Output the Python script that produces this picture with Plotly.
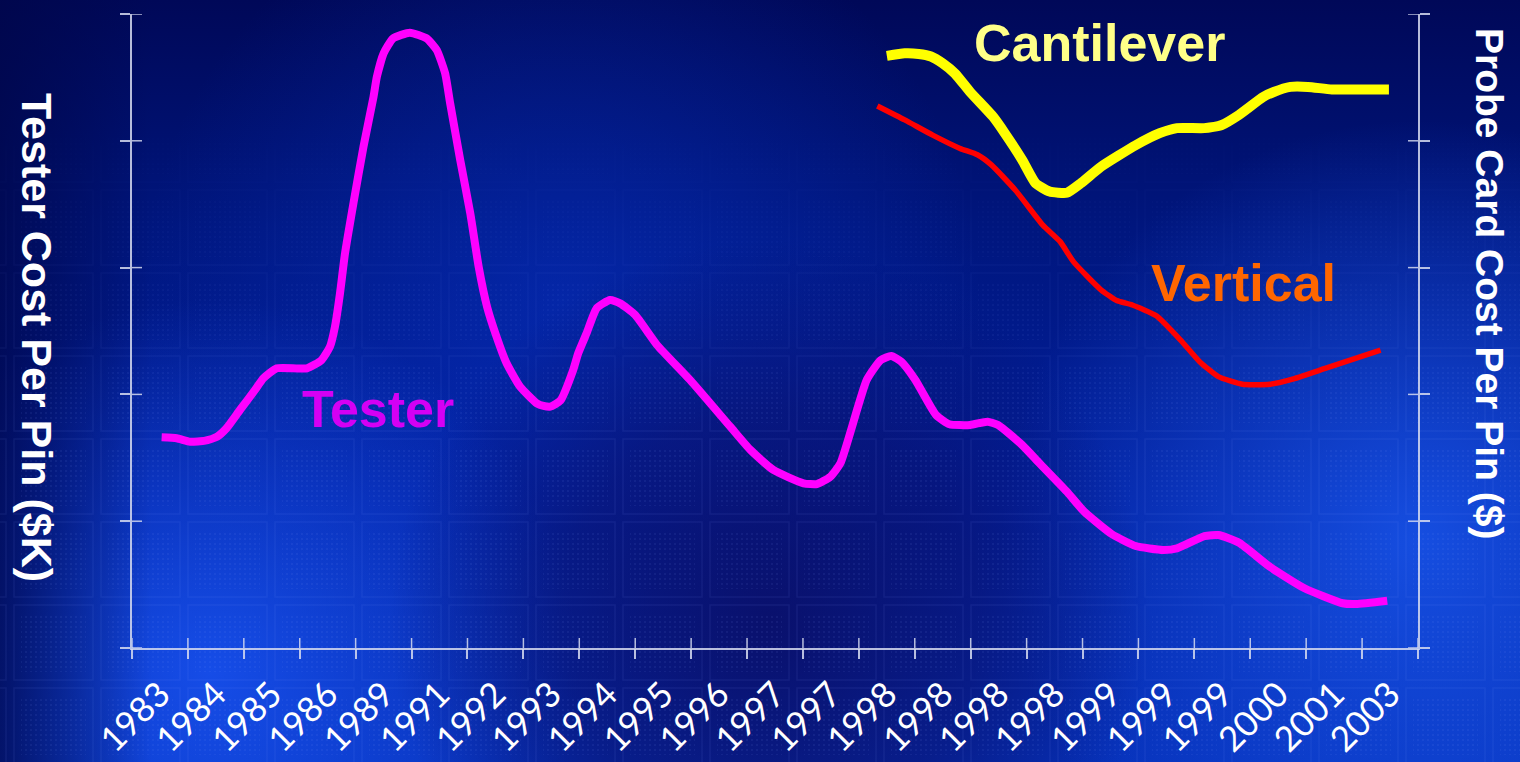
import base64
import plotly.graph_objects as go

# ---- category labels (one slot per survey point) ----
years = ["1983", "1984", "1985", "1986", "1989", "1991", "1992", "1993",
         "1994", "1995", "1996", "1997", "1997", "1998", "1998", "1998",
         "1998", "1999", "1999", "1999", "2000", "2001", "2003"]

# ---- Tester cost per pin ($K), left axis; x in category-slot units ----
tester_x = [0.03, 0.30, 0.54, 0.81, 1.02, 1.19, 1.43, 1.70, 1.85, 2.09,
            2.63, 2.89, 3.04, 3.13, 3.22, 3.31, 3.46, 3.64, 3.82, 3.88,
            4.00, 4.17, 4.47, 4.77, 4.95, 5.10, 5.19, 5.37, 5.55, 5.70,
            5.85, 6.02, 6.20, 6.44, 6.74, 6.86, 6.98, 7.16, 7.39, 7.48,
            7.63, 7.81, 8.05, 8.23, 8.50, 8.89, 9.48, 10.20, 10.56, 10.97,
            11.51, 11.75, 11.99, 12.17, 12.64, 12.89, 13.08, 13.26, 13.51, 13.88,
            14.12, 14.49, 14.80, 14.99, 15.42, 15.73, 16.22, 16.53, 17.02, 17.45,
            17.94, 18.19, 18.68, 18.93, 19.30, 19.85, 20.47, 21.15, 21.39, 21.95]
tester_y = [16.62, 16.54, 16.27, 16.35, 16.66, 17.33, 18.77, 20.35, 21.27, 22.06,
            22.06, 22.71, 23.76, 25.34, 27.97, 31.13, 35.07, 39.53, 43.48, 45.06,
            46.90, 48.08, 48.53, 48.08, 47.16, 45.32, 42.96, 38.49, 34.28, 30.07,
            26.92, 24.55, 22.45, 20.61, 19.30, 19.09, 19.03, 19.50, 21.92, 23.24,
            24.82, 26.79, 27.44, 27.18, 26.26, 23.90, 21.14, 17.45, 15.62, 14.04,
            12.99, 12.93, 13.51, 14.57, 21.14, 22.71, 23.03, 22.58, 21.14, 18.38,
            17.64, 17.59, 17.85, 17.59, 16.01, 14.57, 12.33, 10.75, 8.99, 8.04,
            7.73, 7.86, 8.83, 8.91, 8.30, 6.41, 4.71, 3.53, 3.47, 3.73]

# ---- Probe card cost per pin ($), right axis ----
cantilever_x = [13.00, 13.32, 13.57, 13.79, 14.00, 14.22, 14.49, 14.90, 15.11, 15.42,
                15.66, 15.91, 16.22, 16.47, 16.83, 17.45, 17.88, 18.19, 18.68, 18.99,
                19.30, 19.73, 19.92, 20.22, 20.53, 20.96, 21.45, 21.98]
cantilever_y = [9.34, 9.38, 9.37, 9.33, 9.22, 9.06, 8.77, 8.38, 8.12, 7.70,
                7.33, 7.20, 7.18, 7.33, 7.59, 7.93, 8.12, 8.20, 8.20, 8.25,
                8.41, 8.69, 8.77, 8.85, 8.85, 8.81, 8.81, 8.81]

vertical_x = [12.83, 13.32, 13.82, 14.31, 14.62, 14.87, 15.30, 15.79, 16.10, 16.34,
              16.83, 17.11, 17.39, 17.82, 18.25, 18.59, 18.93, 19.36, 19.85, 20.29,
              20.84, 21.83]
vertical_y = [8.55, 8.33, 8.09, 7.88, 7.78, 7.62, 7.22, 6.67, 6.41, 6.09,
              5.65, 5.48, 5.41, 5.24, 4.86, 4.52, 4.28, 4.16, 4.16, 4.25,
              4.41, 4.70]

W, H = 1520, 762
M_L, M_R, M_T, M_B = 132, 102, 14, 114
PW, PH = W - M_L - M_R, H - M_T - M_B

FONT = "Liberation Sans, Arial, sans-serif"
AXIS_COL = "rgba(215,220,240,0.85)"
TICK_LEN = 10

# ---- blue backdrop with a faint chip-array texture ----
bg_svg = f'''<svg xmlns="http://www.w3.org/2000/svg" width="{W}" height="{H}" viewBox="0 0 {W} {H}" preserveAspectRatio="none">
<defs>
<linearGradient id="base" x1="0" y1="0" x2="0" y2="1">
<stop offset="0" stop-color="#000858"/>
<stop offset="0.3" stop-color="#00167e"/>
<stop offset="0.65" stop-color="#02209e"/>
<stop offset="1" stop-color="#0630b8"/>
</linearGradient>
<radialGradient id="glowL" cx="210" cy="670" r="370" gradientUnits="userSpaceOnUse">
<stop offset="0" stop-color="#1a55f5" stop-opacity="0.8"/>
<stop offset="1" stop-color="#1a55f5" stop-opacity="0"/>
</radialGradient>
<radialGradient id="glowR" cx="1420" cy="540" r="420" gradientUnits="userSpaceOnUse">
<stop offset="0" stop-color="#1c5cf5" stop-opacity="0.75"/>
<stop offset="1" stop-color="#1c5cf5" stop-opacity="0"/>
</radialGradient>
<radialGradient id="glowC" cx="560" cy="300" r="420" gradientUnits="userSpaceOnUse">
<stop offset="0" stop-color="#0834c8" stop-opacity="0.5"/>
<stop offset="1" stop-color="#0834c8" stop-opacity="0"/>
</radialGradient>
<radialGradient id="darkC" cx="770" cy="620" r="380" gradientUnits="userSpaceOnUse">
<stop offset="0" stop-color="#0a0e66" stop-opacity="0.9"/>
<stop offset="0.55" stop-color="#0a0e66" stop-opacity="0.55"/>
<stop offset="1" stop-color="#0a0e66" stop-opacity="0"/>
</radialGradient>
<linearGradient id="edgeL" x1="0" y1="0" x2="1" y2="0">
<stop offset="0" stop-color="#00064a" stop-opacity="0.75"/>
<stop offset="0.1" stop-color="#00064a" stop-opacity="0"/>
</linearGradient>
<pattern id="dots" width="5" height="5" patternUnits="userSpaceOnUse">
<rect width="2" height="2" fill="#8aa2ff"/>
</pattern>
<pattern id="chips" width="87" height="83" x="10" y="20" patternUnits="userSpaceOnUse">
<rect x="4" y="4" width="79" height="75" fill="none" stroke="#8aa2ff" stroke-width="1.5"/>
<rect x="11" y="12" width="65" height="59" fill="url(#dots)"/>
</pattern>
<linearGradient id="fade" x1="0" y1="0" x2="0" y2="1">
<stop offset="0.15" stop-color="#fff" stop-opacity="0"/>
<stop offset="0.55" stop-color="#fff" stop-opacity="1"/>
</linearGradient>
<mask id="m"><rect width="{W}" height="{H}" fill="url(#fade)"/></mask>
</defs>
<rect width="{W}" height="{H}" fill="url(#base)"/>
<rect width="{W}" height="{H}" fill="url(#glowC)"/>
<rect width="{W}" height="{H}" fill="url(#glowL)"/>
<rect width="{W}" height="{H}" fill="url(#glowR)"/>
<rect width="{W}" height="{H}" fill="url(#darkC)"/>
<rect width="{W}" height="{H}" fill="url(#edgeL)"/>
<g mask="url(#m)" opacity="0.08"><rect width="{W}" height="{H}" fill="url(#chips)"/></g>
</svg>'''
bg_uri = "data:image/svg+xml;base64," + base64.b64encode(bg_svg.encode()).decode()

fig = go.Figure()

# empty trace so the overlay axis carrying the slot-boundary ticks gets drawn
fig.add_trace(go.Scatter(x=[None], y=[None], mode="lines", xaxis="x2", yaxis="y",
                         hoverinfo="skip", showlegend=False))

fig.add_trace(go.Scatter(x=tester_x, y=tester_y, mode="lines", name="Tester",
                         line=dict(color="#ff00ff", width=8, shape="spline", smoothing=0.5),
                         xaxis="x", yaxis="y"))
fig.add_trace(go.Scatter(x=cantilever_x, y=cantilever_y, mode="lines", name="Cantilever",
                         line=dict(color="#ffff00", width=10, shape="spline", smoothing=0.5),
                         xaxis="x", yaxis="y2"))
fig.add_trace(go.Scatter(x=vertical_x, y=vertical_y, mode="lines", name="Vertical",
                         line=dict(color="#ff0000", width=5.5, shape="spline", smoothing=0.5),
                         xaxis="x", yaxis="y2"))

x_range = [-0.5, len(years) - 0.5]
slot_edges = [i - 0.5 for i in range(len(years) + 1)]
left_ticks = [0, 10, 20, 30, 40, 50]
right_ticks = [0, 2, 4, 6, 8, 10]

tick_common = dict(ticklen=TICK_LEN, tickwidth=1.5, tickcolor=AXIS_COL, showgrid=False,
                   zeroline=False, showticklabels=False, fixedrange=True,
                   automargin=False)

fig.update_layout(
    width=W, height=H,
    margin=dict(l=M_L, r=M_R, t=M_T, b=M_B, pad=0, autoexpand=False),
    paper_bgcolor="#001080",
    plot_bgcolor="rgba(0,0,0,0)",
    showlegend=False,
    images=[dict(source=bg_uri, xref="paper", yref="paper",
                 x=-M_L / PW, y=1 + M_T / PH, sizex=W / PW, sizey=H / PH,
                 xanchor="left", yanchor="top", sizing="stretch", layer="below")],
    xaxis=dict(range=x_range, tickmode="array", tickvals=list(range(len(years))),
               ticktext=years, tickangle=-45, ticks="", showline=True,
               linecolor=AXIS_COL, linewidth=1.5, showgrid=False, zeroline=False,
               automargin=False, ticklabelstandoff=10,
               tickfont=dict(family="Lato, sans-serif", size=35, color="white")),
    xaxis2=dict(range=x_range, overlaying="x", anchor="y", side="bottom",
                tickmode="array", tickvals=slot_edges, ticks="outside", **tick_common),
    yaxis=dict(range=[0, 50], tickmode="array", tickvals=left_ticks, ticks="outside",
               showline=True, linecolor=AXIS_COL, linewidth=1.5, **tick_common),
    yaxis2=dict(range=[0, 10], overlaying="y", side="right", anchor="x",
                tickmode="array", tickvals=right_ticks, ticks="outside",
                showline=True, linecolor=AXIS_COL, linewidth=1.5, **tick_common),
)

# inward halves of the crossing tick marks
tick_line = dict(color=AXIS_COL, width=1.5)
shapes = []
for e in slot_edges:
    shapes.append(dict(type="line", xref="x", x0=e, x1=e, yref="paper",
                       ysizemode="pixel", yanchor=0, y0=0, y1=TICK_LEN, line=tick_line))
for v in left_ticks:
    shapes.append(dict(type="line", yref="y", y0=v, y1=v, xref="paper",
                       xsizemode="pixel", xanchor=0, x0=0, x1=TICK_LEN, line=tick_line))
for v in right_ticks:
    shapes.append(dict(type="line", yref="y2", y0=v, y1=v, xref="paper",
                       xsizemode="pixel", xanchor=1, x0=-TICK_LEN, x1=0, line=tick_line))
fig.update_layout(shapes=shapes)

def px_x(p):
    return (p - M_L) / PW

def px_y(p):
    return (M_T + PH - p) / PH

annotations = [
    dict(text="Tester Cost Per Pin ($K)", x=px_x(37), y=px_y(337), textangle=90,
         font=dict(family=FONT, size=43, color="white", weight="bold")),
    dict(text="Probe Card Cost Per Pin ($)", x=px_x(1490), y=px_y(283), textangle=90,
         font=dict(family=FONT, size=39, color="white", weight="bold")),
    dict(text="Tester", x=px_x(378), y=px_y(409),
         font=dict(family=FONT, size=52, color="#d400f4", weight="bold")),
    dict(text="Cantilever", x=px_x(1099), y=px_y(43),
         font=dict(family=FONT, size=52, color="#ffff88", weight="bold")),
    dict(text="Vertical", x=px_x(1243), y=px_y(283),
         font=dict(family=FONT, size=52, color="#ff6600", weight="bold")),
]
for a in annotations:
    a.update(xref="paper", yref="paper", xanchor="center", yanchor="middle",
             showarrow=False)
fig.update_layout(annotations=annotations)

fig.write_html("out.html", config={"displayModeBar": False})
